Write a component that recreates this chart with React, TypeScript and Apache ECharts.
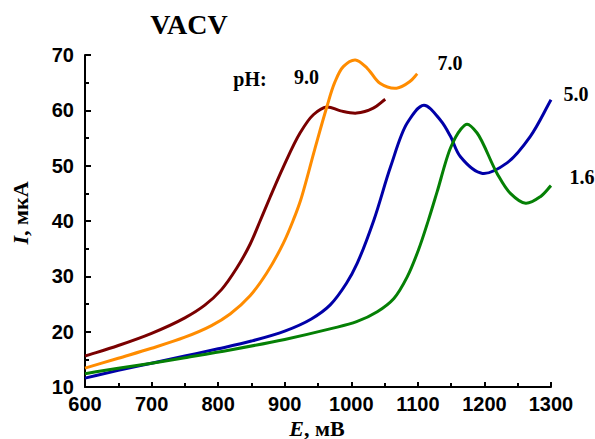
import React, { useEffect, useRef } from "react";
import * as echarts from "echarts";

const xTicks = [600, 700, 800, 900, 1000, 1100, 1200, 1300];
const yTicks = [10, 20, 30, 40, 50, 60, 70];

const ph90: [number, number][] = [
  [600, 15.6], [650, 17.5], [700, 19.7], [750, 22.5], [780, 24.8], [805, 27.6],
  [828, 31.5], [848, 35.8], [863, 40.0], [878, 44.3], [898, 49.8], [923, 55.9],
  [943, 59.2], [963, 60.6], [984, 59.9], [1008, 59.5], [1033, 60.4], [1051, 62.0],
];
const ph70: [number, number][] = [
  [600, 13.4], [650, 15.2], [700, 17.0], [750, 19.0], [790, 21.1], [818, 23.2],
  [848, 26.5], [873, 30.6], [898, 36.0], [913, 40.2], [924, 43.8], [945, 52.9],
  [962, 60.1], [975, 65.0], [988, 67.9], [1006, 69.1], [1024, 67.6], [1043, 64.9],
  [1068, 64.0], [1088, 65.2], [1099, 66.6],
];
const ph50: [number, number][] = [
  [600, 11.6], [650, 13.0], [700, 14.3], [750, 15.6], [800, 16.9], [850, 18.3],
  [900, 20.1], [940, 22.3], [968, 24.8], [993, 28.8], [1009, 32.4], [1034, 40.2],
  [1059, 49.8], [1084, 57.7], [1109, 60.9], [1134, 58.2], [1149, 55.3], [1164, 51.6],
  [1197, 48.6], [1234, 50.5], [1269, 55.3], [1300, 61.9],
];
const ph16: [number, number][] = [
  [600, 12.4], [650, 13.4], [700, 14.3], [750, 15.3], [818, 16.7], [900, 18.6],
  [968, 20.5], [1008, 21.8], [1039, 23.6], [1064, 26.0], [1084, 29.9], [1101, 34.8],
  [1116, 40.2], [1129, 45.3], [1149, 53.2], [1164, 56.5], [1174, 57.5], [1189, 55.9],
  [1219, 48.6], [1239, 45.0], [1262, 43.2], [1284, 44.4], [1300, 46.4],
];

const seriesNames = ["9.0", "7.0", "5.0", "1.6"];
const seriesData = [ph90, ph70, ph50, ph16];
const seriesColors = ["#7a0000", "#ff8c00", "#0000a8", "#058005"];

// centripetal Catmull-Rom through pixel points -> SVG path data
function splinePath(pts: number[][]): string {
  const n = pts.length;
  if (n < 2) return "";
  const get = (i: number): number[] => {
    if (i < 0) return [2 * pts[0][0] - pts[1][0], 2 * pts[0][1] - pts[1][1]];
    if (i >= n) return [2 * pts[n - 1][0] - pts[n - 2][0], 2 * pts[n - 1][1] - pts[n - 2][1]];
    return pts[i];
  };
  const a = 0.5;
  let d = `M${pts[0][0]},${pts[0][1]}`;
  for (let i = 0; i < n - 1; i++) {
    const p0 = get(i - 1), p1 = get(i), p2 = get(i + 1), p3 = get(i + 2);
    const l1 = Math.max(Math.pow(Math.hypot(p1[0] - p0[0], p1[1] - p0[1]), a), 1e-6);
    const l2 = Math.max(Math.pow(Math.hypot(p2[0] - p1[0], p2[1] - p1[1]), a), 1e-6);
    const l3 = Math.max(Math.pow(Math.hypot(p3[0] - p2[0], p3[1] - p2[1]), a), 1e-6);
    const b1 = [0, 1].map(
      (k) => (l1 * l1 * p2[k] - l2 * l2 * p0[k] + (2 * l1 * l1 + 3 * l1 * l2 + l2 * l2) * p1[k]) / (3 * l1 * (l1 + l2))
    );
    const b2 = [0, 1].map(
      (k) => (l3 * l3 * p1[k] - l2 * l2 * p3[k] + (2 * l3 * l3 + 3 * l3 * l2 + l2 * l2) * p2[k]) / (3 * l3 * (l3 + l2))
    );
    d += ` C${b1[0]},${b1[1]} ${b2[0]},${b2[1]} ${p2[0]},${p2[1]}`;
  }
  return d;
}

export default function App() {
  const ref = useRef<HTMLDivElement>(null);
  useEffect(() => {
    document.body.style.margin = "0";
    const chart = echarts.init(ref.current!, null, { renderer: "svg" });
    const labelFont = { fontFamily: "Liberation Serif", fontWeight: "bold" as const, fontSize: 20 };
    const axisLabel = {
      color: "#000",
      fontFamily: "Liberation Sans",
      fontWeight: "bold",
      fontSize: 20,
      formatter: (v: number) => String(v),
    };
    const titleRich = {
      i: { fontFamily: "Liberation Serif", fontWeight: "bold", fontStyle: "italic", fontSize: 22, fill: "#000" },
      r: { fontFamily: "Liberation Serif", fontWeight: "bold", fontSize: 22, fill: "#000" },
    };
    chart.setOption({
      animation: false,
      backgroundColor: "#ffffff",
      grid: { left: 85, right: 44, top: 55, bottom: 52, containLabel: false },
      xAxis: {
        type: "value",
        min: xTicks[0],
        max: xTicks[xTicks.length - 1],
        interval: 100,
        axisLine: { show: true, lineStyle: { color: "#000", width: 2 } },
        axisTick: { show: true, inside: true, length: 5, lineStyle: { color: "#000", width: 2 } },
        minorTick: { show: true, splitNumber: 2, length: 4, lineStyle: { color: "#000", width: 2 } },
        splitLine: { show: false },
        axisLabel: { ...axisLabel, margin: 7 },
      },
      yAxis: {
        type: "value",
        min: yTicks[0],
        max: yTicks[yTicks.length - 1],
        interval: 10,
        axisLine: { show: true, lineStyle: { color: "#000", width: 2 } },
        axisTick: { show: true, inside: true, length: 6, lineStyle: { color: "#000", width: 2 } },
        minorTick: { show: true, splitNumber: 2, length: 4, lineStyle: { color: "#000", width: 2 } },
        splitLine: { show: false },
        axisLabel: { ...axisLabel, margin: 11 },
      },
      series: seriesData.map((d, i) => ({
        type: "custom",
        name: seriesNames[i],
        coordinateSystem: "cartesian2d",
        data: d,
        encode: { x: 0, y: 1 },
        z: 3,
        renderItem: (params: any, api: any) => {
          if (params.dataIndex !== 0) return null;
          const pts = d.map((p) => api.coord(p));
          return {
            type: "path",
            shape: { pathData: splinePath(pts) },
            style: { fill: "none", stroke: seriesColors[i], lineWidth: 3 },
          };
        },
      })),
      graphic: [
        {
          type: "text",
          x: 189,
          y: 24,
          style: { text: "VACV", fontFamily: "Liberation Serif", fontWeight: "bold", fontSize: 28, fill: "#000", align: "center", verticalAlign: "middle" },
        },
        {
          type: "text",
          x: 250,
          y: 79,
          style: { text: "pH:", ...labelFont, fill: "#000", align: "center", verticalAlign: "middle" },
        },
        {
          type: "text",
          x: 306.5,
          y: 77,
          style: { text: seriesNames[0], ...labelFont, fill: "#000", align: "center", verticalAlign: "middle" },
        },
        {
          type: "text",
          x: 450,
          y: 63,
          style: { text: seriesNames[1], ...labelFont, fill: "#000", align: "center", verticalAlign: "middle" },
        },
        {
          type: "text",
          x: 576,
          y: 94,
          style: { text: seriesNames[2], ...labelFont, fill: "#000", align: "center", verticalAlign: "middle" },
        },
        {
          type: "text",
          x: 582,
          y: 177,
          style: { text: seriesNames[3], ...labelFont, fill: "#000", align: "center", verticalAlign: "middle" },
        },
        {
          type: "text",
          x: 317,
          y: 428,
          style: { text: "{i|E}{r|, мВ}", align: "center", verticalAlign: "middle", rich: titleRich },
        },
        {
          type: "text",
          x: 20,
          y: 213,
          rotation: Math.PI / 2,
          style: { text: "{i|I}{r|, мкА}", align: "center", verticalAlign: "middle", rich: titleRich },
        },
      ],
    });
    return () => chart.dispose();
  }, []);
  return <div ref={ref} style={{ width: 595, height: 439 }} />;
}
